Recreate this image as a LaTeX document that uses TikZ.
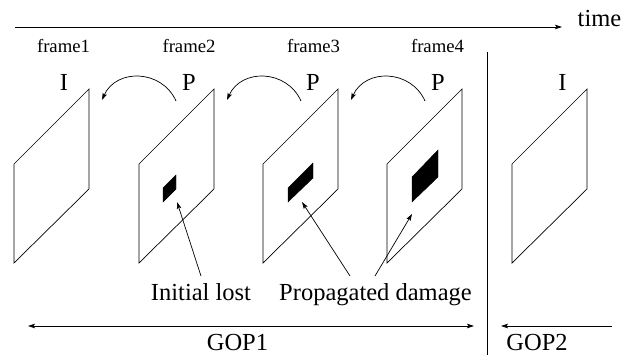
\documentclass[tikz,border=0pt]{standalone}
\usepackage{fontspec}
\setmainfont{Liberation Serif}
\usetikzlibrary{arrows.meta}
\tikzset{
  line/.style={line width=0.7pt},
  arr/.style={line width=0.7pt,-{Stealth[length=7pt,width=4.5pt,inset=1.5pt]}},
  frm/.style={line width=0.7pt},
  patch/.style={fill=black,draw=black,line width=0.4pt},
  big/.style={inner sep=0pt,anchor=base,font=\fontsize{24.5}{28}\selectfont},
  small/.style={inner sep=0pt,anchor=base,font=\fontsize{18.7}{22}\selectfont},
}
\begin{document}
\begin{tikzpicture}[x=1pt,y=-1pt]
\useasboundingbox (0,0) rectangle (629,355);
% time axis
\coordinate (t0) at (15,27);
\coordinate (t1) at (562,27);
\draw[arr] (t0) -- (t1);
\node[big] (time) at (599.5,27) {time};
% frame labels
\node[small] (f1) at (63.5,52.5) {frame1};
\node[small] (f2) at (189,52.5) {frame2};
\node[small] (f3) at (313.5,52.5) {frame3};
\node[small] (f4) at (437.5,52.5) {frame4};
% type labels
\node[big] (i1) at (64,90.5) {I};
\node[big] (p2) at (189,90.5) {P};
\node[big] (p3) at (313,90.5) {P};
\node[big] (p4) at (438,90.5) {P};
\node[big] (i5) at (562.5,90.5) {I};
% frames
\foreach \L/\n in {14/1,139/2,263/3,387/4,512/5}{
  \draw[frm] (\L,164) -- (\L+75,89) -- (\L+75,189) -- (\L,263) -- cycle;
}
% damage patches
\coordinate (d2) at (177,202);
\coordinate (d3) at (302,202);
\coordinate (d4) at (412,214);
\fill[patch] (163,188) -- (176,175) -- (176,189) -- (163,202) -- cycle;
\fill[patch] (288,188) -- (313,163) -- (313,178) -- (288,202) -- cycle;
\fill[patch] (412,177) -- (438,150) -- (438,177) -- (412,202) -- cycle;
% reference arrows
\coordinate (a2s) at (176,101); \coordinate (a2e) at (102,100);
\coordinate (a3s) at (301,101); \coordinate (a3e) at (227,100);
\coordinate (a4s) at (425,101); \coordinate (a4e) at (351,100);
\draw[arr] (a2s) to[out=114,in=66,looseness=1.2] (a2e);
\draw[arr] (a3s) to[out=114,in=66,looseness=1.2] (a3e);
\draw[arr] (a4s) to[out=114,in=66,looseness=1.2] (a4e);
% bottom labels
\node[big] (il) at (201,301) {Initial lost};
\node[big] (pd) at (375.5,301) {Propagated damage};
\coordinate (ils) at (201,276);
\coordinate (pds1) at (350,276);
\coordinate (pds2) at (375,276);
\draw[arr] (ils) -- (d2);
\draw[arr] (pds1) -- (d3);
\draw[arr] (pds2) -- (d4);
% separator
\coordinate (s0) at (487,52);
\coordinate (s1) at (487,355);
\draw[line] (s0) -- (s1);
% GOP arrows
\coordinate (g1a) at (28,326);
\coordinate (g1b) at (474,326);
\draw[line,{Stealth[length=7pt,width=4.5pt,inset=1.5pt]}-{Stealth[length=7pt,width=4.5pt,inset=1.5pt]}] (g1a) -- (g1b);
\node[big] (gop1) at (237.5,350) {GOP1};
\coordinate (g2a) at (612,326);
\coordinate (g2b) at (501,326);
\draw[arr] (g2a) -- (g2b);
\node[big] (gop2) at (537,350) {GOP2};
\end{tikzpicture}
\end{document}
